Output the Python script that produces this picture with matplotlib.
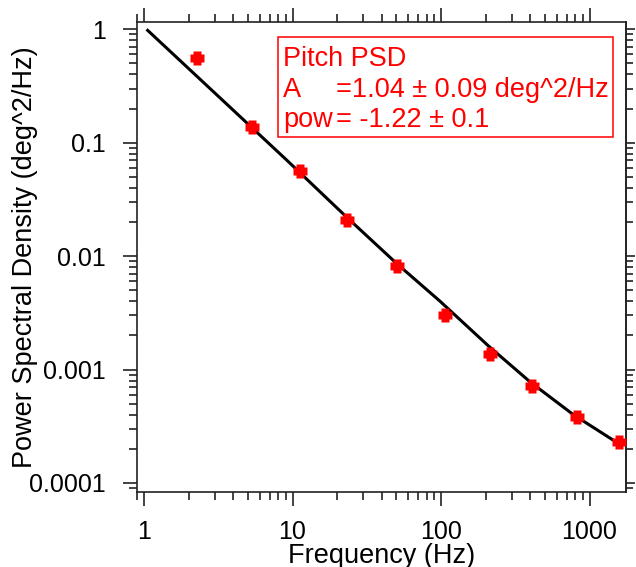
import matplotlib
matplotlib.use("Agg")
import matplotlib.pyplot as plt
from matplotlib.path import Path
from matplotlib.patches import Rectangle
from matplotlib.ticker import NullFormatter, LogLocator

plt.rcParams['font.family'] = ['Liberation Sans', 'DejaVu Sans']

# ---- data ----
freq_pts = [2.27, 5.34, 11.2, 23.3, 50.6, 106, 214, 410, 823, 1580]
psd_pts = [0.558, 0.1375, 0.0564, 0.0208, 0.00817, 0.00303, 0.00137, 0.000716, 0.000382, 0.000230]

fit_freq = [1.04, 9.04, 23.2, 50.3, 98.5, 208, 397, 778, 1563]
fit_psd = [1.0, 0.0712, 0.0220, 0.0086, 0.0040, 0.00162, 0.00078, 0.000400, 0.000223]

x_ticks = [1, 10, 100, 1000]
x_tick_labels = ['1', '10', '100', '1000']
y_ticks = [1, 0.1, 0.01, 0.001, 0.0001]
y_tick_labels = ['1', '0.1', '0.01', '0.001', '0.0001']

legend_title = 'Pitch PSD'
legend_names = ['A', 'pow']
legend_values = ['=1.04 \u00b1 0.09 deg^2/Hz', '= -1.22 \u00b1 0.1']

W, H = 636, 567
fig = plt.figure(figsize=(W / 100, H / 100), dpi=100)
L, R, T, B = 137, 626, 21.7, 492
ax = fig.add_axes([L / W, 1 - B / H, (R - L) / W, (B - T) / H])
ax.set_xscale('log')
ax.set_yscale('log')
ax.set_xlim(0.897, 1760)
ax.set_ylim(8.32e-5, 1.167)

# thick plus marker
a, w = 1.0, 0.55
plus_verts = [(-w, a), (w, a), (w, w), (a, w), (a, -w), (w, -w), (w, -a),
              (-w, -a), (-w, -w), (-a, -w), (-a, w), (-w, w), (-w, a)]
plus_marker = Path(plus_verts, closed=True)

ax.plot(fit_freq, fit_psd, color='black', lw=2.2, zorder=3, solid_capstyle='butt')
ax.plot(freq_pts, psd_pts, linestyle='none', marker=plus_marker, ms=9.5,
        color='#ff0000', mec='none', zorder=4)

for s in ax.spines.values():
    s.set_linewidth(1.2)
    s.set_color('#222222')

ax.set_xticks(x_ticks, labels=x_tick_labels)
ax.set_yticks(y_ticks, labels=y_tick_labels)
ax.xaxis.set_minor_locator(LogLocator(base=10, subs=range(2, 10), numticks=20))
ax.yaxis.set_minor_locator(LogLocator(base=10, subs=range(2, 10), numticks=20))
ax.xaxis.set_minor_formatter(NullFormatter())
ax.yaxis.set_minor_formatter(NullFormatter())

ax.tick_params(axis='both', which='both', direction='out', width=1.2, color='#222222',
               labelsize=18, top=True, right=False)
ax.tick_params(axis='both', which='major', length=10)
ax.tick_params(axis='both', which='minor', length=5.8)
ax.tick_params(axis='x', which='major', pad=10.5)
ax.tick_params(axis='y', which='major', pad=12.5)

sec = ax.secondary_yaxis('right')
sec.set_yticks(y_ticks)
sec.tick_params(which='both', direction='out', width=1.2, color='#222222', labelright=False)
sec.tick_params(which='major', length=6.7)
sec.tick_params(which='minor', length=5)
sec.spines['right'].set_linewidth(1.2)
sec.spines['right'].set_color('#222222')

ax.set_xlabel('Frequency (Hz)', fontsize=19.5)
ax.set_ylabel('Power Spectral Density (deg^2/Hz)', fontsize=19.5)
ax.xaxis.set_label_coords(0.5, -0.1085)
ax.yaxis.set_label_coords(-0.2025, 0.5)

# legend box
def fx(px):
    return px / W
def fy(py):
    return 1 - py / H

fig.patches.append(Rectangle((fx(278), fy(137)), (613 - 278) / W, (137 - 37) / H,
                             transform=fig.transFigure, fill=False,
                             edgecolor='#ff0000', linewidth=1.1))
red = '#ff0000'
fig.text(fx(283), fy(66), legend_title, color=red, fontsize=19.5, va='baseline')
baselines = [96.7, 126.7]
for name, val, yb in zip(legend_names, legend_values, baselines):
    fig.text(fx(283), fy(yb), name, color=red, fontsize=19.5, va='baseline')
    fig.text(fx(335.5), fy(yb), val, color=red, fontsize=19.5, va='baseline')

fig.savefig('out.png', dpi=100)
